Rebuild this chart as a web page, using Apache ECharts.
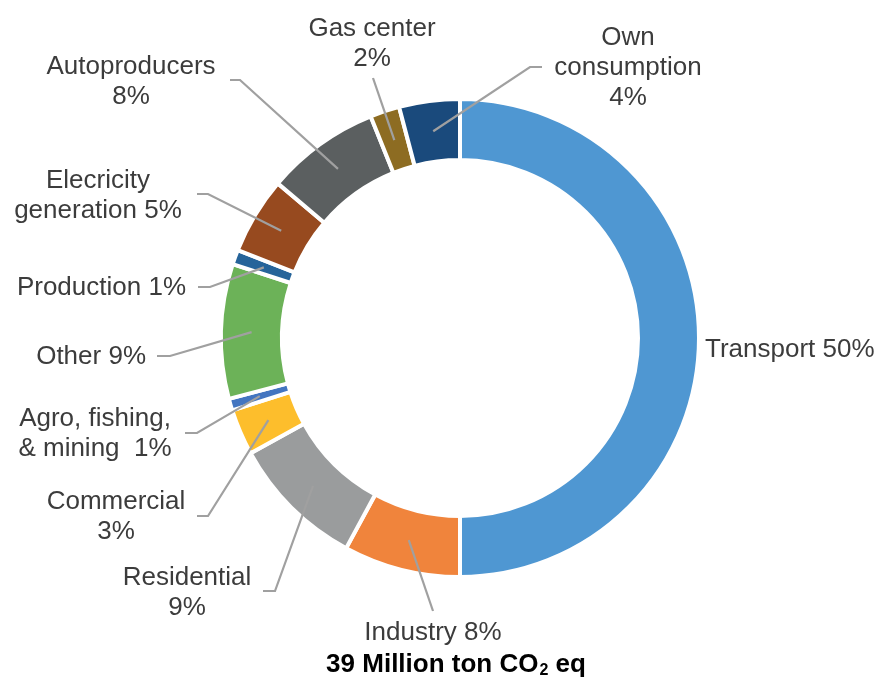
<!DOCTYPE html>
<html>
<head>
<meta charset="utf-8">
<script src="https://cdn.jsdelivr.net/npm/echarts@6/dist/echarts.min.js"></script>
<style>
  html, body { margin: 0; padding: 0; background: #ffffff; }
  #chart { width: 882px; height: 679px; }
</style>
</head>
<body>
<div id="chart"></div>
<script>
// ---- Data ----
const categories = ['Transport', 'Industry', 'Residential', 'Commercial', 'Agro, fishing, & mining',
  'Other', 'Production', 'Electricity generation', 'Autoproducers', 'Gas center', 'Own consumption'];
const shares = [50, 7.9, 9.1, 3.1, 0.8, 9.1, 1.0, 5.2, 7.7, 2.0, 4.1];
const labelTemplates = ['Transport {p}', 'Industry {p}', 'Residential\n{p}', 'Commercial\n{p}',
  'Agro, fishing,\n& mining  {p}', 'Other {p}', 'Production {p}', 'Elecricity\ngeneration {p}',
  'Autoproducers\n{p}', 'Gas center\n{p}', 'Own\nconsumption\n{p}'];
const totalTitle = ['39 Million ton CO', '2', ' eq'];

// ---- Styles / layout ----
const colors = ['#4F97D2', '#F0843C', '#9A9C9D', '#FDBE2C', '#4375C0', '#6CB258',
  '#26649A', '#974A1F', '#5B5F60', '#8D6C22', '#1A4A7C'];
const CX = 460, CY = 338, R0 = 178, R1 = 239;
const labelAnchors = [
  { x: 705, y: 350, align: 'left', line: null },
  { x: 433, y: 633, align: 'center', line: [[433, 611], [433, 611]] },
  { x: 187, y: 593, align: 'center', line: [[275, 591], [263, 591]] },
  { x: 116, y: 517, align: 'center', line: [[208, 516], [197, 516]] },
  { x: 95, y: 434, align: 'center', line: [[197, 433], [185, 433]] },
  { x: 146, y: 357, align: 'right', line: [[170, 356], [157, 356]] },
  { x: 186, y: 288, align: 'right', line: [[210, 287], [198, 287]] },
  { x: 98, y: 196, align: 'center', line: [[208, 194], [197, 194]] },
  { x: 131, y: 82, align: 'center', line: [[240, 80], [230, 80]] },
  { x: 372, y: 44, align: 'center', line: [[373, 78], [373, 78]] },
  { x: 628, y: 68, align: 'center', line: [[530, 67], [542, 67]] }
];

const chart = echarts.init(document.getElementById('chart'), null, { renderer: 'canvas' });
const total = shares.reduce((a, b) => a + b, 0);

function midRingPoint(i) {
  let layout = null;
  try {
    layout = chart.getModel().getSeriesByIndex(0).getData().getItemLayout(i);
  } catch (e) { layout = null; }
  let cx = CX, cy = CY, rm = (R0 + R1) / 2, mid;
  if (layout && layout.startAngle != null) {
    cx = layout.cx; cy = layout.cy;
    rm = (layout.r + layout.r0) / 2;
    mid = (layout.startAngle + layout.endAngle) / 2;
  } else {
    let cum = 0;
    for (let k = 0; k < i; k++) cum += shares[k];
    mid = (-90 + (cum + shares[i] / 2) / total * 360) * Math.PI / 180;
  }
  return [cx + rm * Math.cos(mid), cy + rm * Math.sin(mid)];
}

const FONT = '"Liberation Sans", Arial, Helvetica, sans-serif';

const pieBase = {
  type: 'pie',
  center: [CX, CY],
  radius: [R0, R1],
  startAngle: 90,
  clockwise: true,
  avoidLabelOverlap: false,
  silent: true
};

const option = {
  backgroundColor: '#ffffff',
  animation: false,
  series: [
    Object.assign({}, pieBase, {
      name: 'slices',
      z: 2,
      itemStyle: { borderColor: '#ffffff', borderWidth: 4 },
      label: { show: false },
      labelLine: { show: false },
      data: categories.map((name, i) => ({
        name: name,
        value: shares[i],
        itemStyle: { color: colors[i] }
      }))
    }),
    Object.assign({}, pieBase, {
      name: 'labels',
      z: 3,
      itemStyle: { color: 'rgba(0,0,0,0)', borderWidth: 0 },
      label: {
        show: true,
        position: 'outside',
        color: '#3C3C3C',
        fontFamily: FONT,
        fontSize: 26,
        lineHeight: 30,
        formatter: function (p) {
          return labelTemplates[p.dataIndex].replace('{p}', Math.round(p.value) + '%');
        }
      },
      labelLine: {
        show: true,
        showAbove: true,
        length: 10,
        length2: 10,
        lineStyle: { color: '#A0A0A0', width: 2.2 }
      },
      labelLayout: function (params) {
        const i = params.dataIndex;
        const a = labelAnchors[i];
        const out = { x: a.x, y: a.y, align: a.align, verticalAlign: 'middle' };
        if (a.line) {
          out.labelLinePoints = [midRingPoint(i), a.line[0], a.line[1]];
        }
        return out;
      },
      data: categories.map((name, i) => ({
        name: name,
        value: shares[i],
        labelLine: { show: labelAnchors[i].line != null }
      }))
    })
  ],
  graphic: [{
    type: 'text',
    x: 456,
    y: 665,
    style: {
      text: '{a|' + totalTitle[0] + '}{s|' + totalTitle[1] + '}{a|' + totalTitle[2] + '}',
      align: 'center',
      verticalAlign: 'middle',
      fill: '#000000',
      rich: {
        a: { fontFamily: FONT, fontSize: 26, fontWeight: 'bold', fill: '#000000', lineHeight: 30 },
        s: { fontFamily: FONT, fontSize: 16, fontWeight: 'bold', fill: '#000000', lineHeight: 30, padding: [12, 0, 0, 1] }
      }
    }
  }]
};

chart.setOption(option);
</script>
</body>
</html>
